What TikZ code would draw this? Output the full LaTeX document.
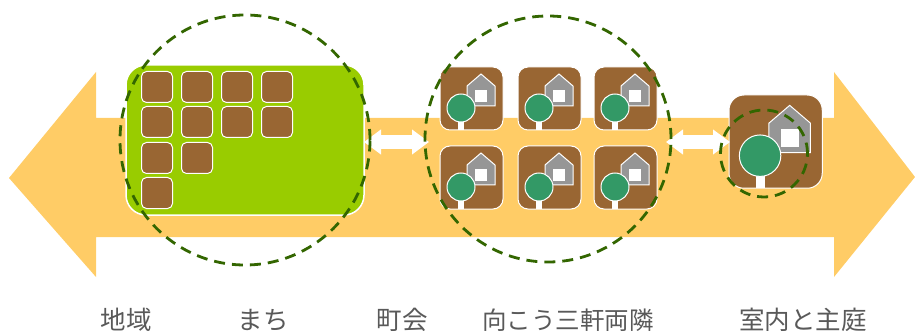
\documentclass[tikz,border=0pt]{standalone}
\usepackage{fontspec}
\setmainfont{Noto Sans CJK JP}
\usepackage{xcolor}
\usetikzlibrary{arrows.meta}
\definecolor{bandcol}{HTML}{FFCC66}
\definecolor{towncol}{HTML}{99CC00}
\definecolor{soilcol}{HTML}{996633}
\definecolor{treecol}{HTML}{339966}
\definecolor{housecol}{HTML}{969696}
\definecolor{ringcol}{HTML}{336600}
\definecolor{labelcol}{HTML}{595959}

\tikzset{
    housecard/.pic={
        \draw[white,fill=soilcol,line width=1pt,rounded corners=#1] (0,0) rectangle (63,63);
        \draw[white,fill=housecol,line width=1pt] (41,7) -- (55,19) -- (55,39) -- (27,39) -- (27,19) -- cycle;
        \fill[white] (35,23) rectangle (47,35);
        \fill[white] (18,50) rectangle (24,63);
        \draw[white,fill=treecol,line width=1pt] (21,41) circle (14);
    }
}

\begin{document}
\begin{tikzpicture}[
    x=1pt,y=-1pt,
    town/.style={draw=white,fill=towncol,line width=1.5pt,rounded corners=20pt,
        minimum width=238pt,minimum height=150pt,inner sep=0pt},
    lot/.style={draw=white,fill=soilcol,line width=1pt,rounded corners=5pt,
        minimum size=31pt,inner sep=0pt},
    ring/.style={draw=ringcol,circle,line width=2.8pt,dash pattern=on 11pt off 7pt,inner sep=0pt},
    twoway/.style={{Triangle[length=17pt,width=24pt]}-{Triangle[length=17pt,width=24pt]},white,line width=14pt},
    place/.style={text=labelcol,font=\fontsize{25.5pt}{26pt}\selectfont,inner sep=0pt}
]
\useasboundingbox (0,0) rectangle (915,331);
% Band with both heads
\fill[bandcol] (9,178) -- (96,72) -- (96,118) -- (834,118) -- (834,72) -- (915,177)
    -- (834,277) -- (834,237) -- (96,237) -- (96,277) -- cycle;
% Town with its lots
\node[town] (town) at (245,140) {};
\foreach \px/\py [count=\i] in {157/87,197/87,237/87,277/87,157/122,197/122,237/122,277/122,157/158,197/158,157/193}
    \node[lot] (lot\i) at (\px,\py) {};
% Neighbours
\foreach \cx in {440,518,594}
    \foreach \cy in {67,146}
        \pic at (\cx,\cy) {housecard=10pt};
% Home and garden
\pic[scale=1.48] at (729,95) {housecard=15pt};
% Arrows between the levels
\coordinate (hopA) at (364,142);
\coordinate (hopB) at (429,142);
\coordinate (hopC) at (666,142);
\coordinate (hopD) at (730,142);
\draw[twoway] (hopA) -- (hopB);
\draw[twoway] (hopC) -- (hopD);
% Dashed rings
\node[ring,minimum size=250pt] (ringtown) at (245,140) {};
\node[ring,minimum size=246pt] (ringnear) at (548,139) {};
\node[ring,minimum size=87pt] (ringhome) at (764,153.5) {};
% Labels
\node[place] (chiiki) at (126,320) {地域};
\node[place] (machi) at (263,320) {まち};
\node[place] (chokai) at (402,320) {町会};
\node[place,font=\fontsize{24.5pt}{26pt}\selectfont] (sangen) at (568,320) {向こう三軒両隣};
\node[place] (shitsunai) at (803,320) {室内と主庭};
\end{tikzpicture}
\end{document}
